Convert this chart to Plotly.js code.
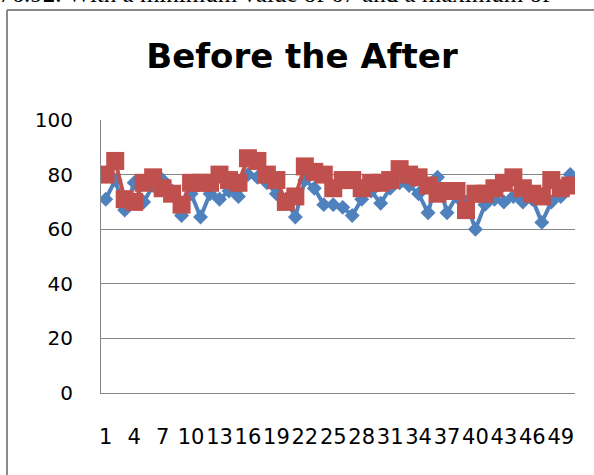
<!DOCTYPE html>
<html>
<head>
<meta charset="utf-8">
<script src="https://cdn.plot.ly/plotly-3.0.1.min.js"></script>
<style>
  html, body { margin: 0; padding: 0; background: #fff; overflow: hidden; }
  #chart { width: 594px; height: 475px; }
</style>
</head>
<body>
<div id="chart"></div>
<script>
// Trial numbers along the category axis
const trials = [1,2,3,4,5,6,7,8,9,10,11,12,13,14,15,16,17,18,19,20,
                21,22,23,24,25,26,27,28,29,30,31,32,33,34,35,36,37,38,39,40,
                41,42,43,44,45,46,47,48,49,50];

// Scores before
const beforeScores = [71,78,67,77,70,76,78,74,65,73,64.5,73,71,74,72,80,79,77,73,71,
                      64.5,78,75,69,69,68,65,71,74,69.5,75,77,76,73,66,79,66,72,70,60,
                      69,71,70,72,70,71,62.5,70,72,80];

// Scores after
const afterScores = [80,85,71,70,77,79,75,73,69,77,77,77,80,78,77,86,85,80,78,70,
                     72,83,81,80,75,78,78,75,77,77,78,82,80,79,76,73,74,74,67,73,
                     73,75,77,79,75,73,72,78,75,76];

// Category labels shown on the horizontal axis
const xTickVals = [1,4,7,10,13,16,19,22,25,28,31,34,37,40,43,46,49];
const yTickVals = [0,20,40,60,80,100];

const chartTitle = 'Before the After';
const noteText = '76.92. With a minimum value of 67 and a maximum of';

const blue = '#4F81BD';
const red = '#C0504D';
const grid = '#868686';

const traces = [
  {
    x: trials, y: beforeScores, type: 'scatter', mode: 'lines+markers',
    name: 'Before',
    line: { color: blue, width: 4 },
    marker: { symbol: 'diamond', size: 11.5, color: blue, line: { width: 0 } }
  },
  {
    x: trials, y: afterScores, type: 'scatter', mode: 'lines+markers',
    name: 'After',
    line: { color: red, width: 4 },
    marker: { symbol: 'square', size: 18, color: red, line: { width: 0 } }
  }
];

// pixel helpers for paper-space placement of the frame and note
const L = 101, R = 19, T = 120, B = 82, W = 594, H = 475;
const pw = W - L - R, ph = H - T - B;
const px = v => (v - L) / pw;
const py = v => 1 - (v - T) / ph;

const layout = {
  width: W, height: H,
  margin: { l: L, r: R, t: T, b: B, pad: 0 },
  paper_bgcolor: '#fff', plot_bgcolor: '#fff',
  showlegend: false,
  title: {
    text: '<b>' + chartTitle + '</b>',
    font: { family: 'DejaVu Sans', size: 34, color: '#000' },
    x: px(302), xanchor: 'center', xref: 'paper',
    y: 1 - 56 / H, yanchor: 'middle', yref: 'container'
  },
  xaxis: {
    type: 'linear', range: [0.5, 50.5],
    tickmode: 'array', tickvals: xTickVals, ticktext: xTickVals.map(String),
    tickangle: 0, ticks: '', showgrid: false, zeroline: false,
    showline: true, linecolor: grid, linewidth: 1,
    tickfont: { family: 'DejaVu Sans', size: 21, color: '#000' },
    ticklabelstandoff: 25, fixedrange: true
  },
  yaxis: {
    range: [0, 100], tickmode: 'array', tickvals: yTickVals,
    ticks: '', showgrid: true, gridcolor: grid, gridwidth: 1,
    zeroline: false, showline: true, linecolor: grid, linewidth: 1,
    tickfont: { family: 'DejaVu Sans', size: 20, color: '#000' },
    ticklabelstandoff: 23, fixedrange: true
  },
  shapes: [
    // outer chart frame (left and top edges)
    { type: 'line', xref: 'paper', yref: 'paper',
      x0: px(7), x1: px(7), y0: py(10), y1: py(480),
      line: { color: '#8a8a8a', width: 2 } },
    { type: 'line', xref: 'paper', yref: 'paper',
      x0: px(7), x1: px(600), y0: py(10), y1: py(10),
      line: { color: '#8a8a8a', width: 2 } }
  ],
  annotations: [
    { text: noteText, xref: 'paper', yref: 'paper',
      x: px(-3), xanchor: 'left', y: py(9), yanchor: 'bottom',
      showarrow: false,
      font: { family: 'Liberation Serif', size: 25, color: '#000' } }
  ]
};

Plotly.newPlot('chart', traces, layout, { staticPlot: true, displayModeBar: false });
</script>
</body>
</html>
